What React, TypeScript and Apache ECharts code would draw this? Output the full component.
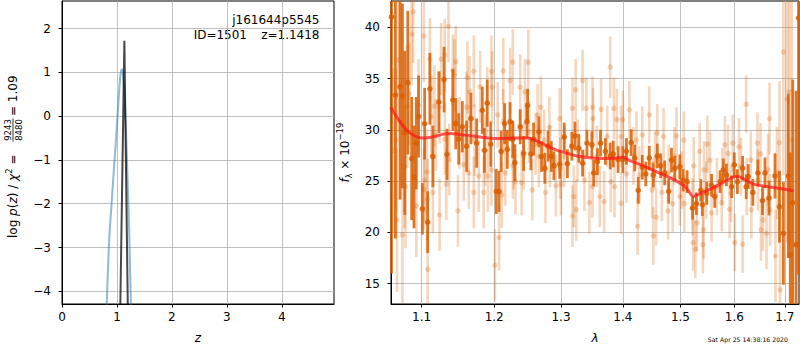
import React, { useEffect, useRef } from 'react';
import * as echarts from 'echarts';

const FONT = 'DejaVu Sans';

// ---- left panel: redshift PDF ----
const zTicks = [0, 1, 2, 3, 4];
const logpTicks = [-4, -3, -2, -1, 0, 1, 2];
const zMin = 0;
const zMax = 4.95;
const logpMin = -4.29;
const logpMax = 2.63;

const pzCurve: [number, number][] = [
  [0.8, -5.2], [0.814, -4.29], [0.84, -3.4], [0.862, -2.75], [0.9, -2.05], [0.935, -1.38],
  [0.978, -0.62], [1.026, 0.3], [1.056, 0.85], [1.075, 1.03], [1.09, 1.07], [1.105, 1.0],
  [1.129, 0.68], [1.155, 0.0], [1.178, -0.85], [1.2, -1.7], [1.22, -2.52], [1.251, -4.12], [1.26, -4.6],
];
const zBestLine: [number, number][] = [[1.058, -4.6], [1.135, 1.72], [1.2, -4.6]];

// ---- right panel: spectrum ----
const lamTicks = [1.1, 1.2, 1.3, 1.4, 1.5, 1.6, 1.7];
const fluxTicks = [15, 20, 25, 30, 35, 40];
const lamMin = 1.0604;
const lamMax = 1.729;
const fluxMin = 13.02;
const fluxMax = 42.56;

const modelLine: [number, number][] = [
  [1.06, 32.2], [1.07, 31.0], [1.08, 30.0], [1.09, 29.45], [1.1, 29.2], [1.11, 29.25], [1.12, 29.4],
  [1.13, 29.6], [1.14, 29.65], [1.15, 29.55], [1.17, 29.4], [1.19, 29.2], [1.21, 29.15], [1.23, 29.2],
  [1.25, 29.2], [1.27, 28.7], [1.29, 28.1], [1.31, 27.7], [1.325, 27.45], [1.35, 27.25], [1.37, 27.2],
  [1.39, 27.25], [1.4, 27.35], [1.41, 27.05], [1.43, 26.6], [1.45, 26.1], [1.47, 25.6], [1.49, 25.1],
  [1.51, 24.4], [1.523, 23.5], [1.54, 23.9], [1.558, 24.3], [1.58, 24.9], [1.595, 25.35], [1.608, 25.45],
  [1.622, 25.1], [1.637, 24.7], [1.66, 24.5], [1.68, 24.35], [1.70, 24.2], [1.718, 24.05],
];

// [lambda, flux, error]
const darkPoints: [number, number, number][] = [
  [1.061, 41.0, 25], [1.066, 33.4, 14], [1.072, 34.2, 11], [1.075, 33.3, 9], [1.078, 29.7, 8],
  [1.082, 34.6, 7], [1.087, 27.2, 6], [1.09, 25.4, 5], [1.093, 28.7, 4.5], [1.096, 31.3, 4],
  [1.101, 22.3, 2.5], [1.104, 30.6, 3.5], [1.108, 21.0, 3], [1.111, 34.0, 3.5], [1.115, 27.4, 3],
  [1.123, 32.7, 3], [1.13, 34.9, 3.2], [1.134, 27.6, 2.5], [1.142, 32.9, 3], [1.146, 30.6, 2.5],
  [1.15, 29.1, 2.5], [1.155, 30.3, 2.5], [1.161, 28.4, 2.5], [1.167, 31.1, 2.5], [1.175, 28.7, 2.4],
  [1.183, 31.9, 2.3], [1.186, 28.0, 2.2], [1.19, 32.6, 2.3], [1.195, 28.6, 2.2], [1.203, 24.0, 2.2],
  [1.207, 24.0, 2.0], [1.21, 27.9, 2.0], [1.215, 30.6, 2.0], [1.219, 28.1, 1.9], [1.223, 30.8, 1.9],
  [1.227, 29.1, 1.8], [1.23, 26.8, 1.8], [1.238, 30.3, 1.7], [1.243, 27.7, 1.7], [1.248, 30.8, 1.6],
  [1.249, 32.4, 1.6], [1.254, 27.65, 1.6], [1.258, 29.1, 1.6], [1.266, 29.8, 1.5], [1.27, 27.4, 1.5],
  [1.275, 26.25, 1.5], [1.28, 28.4, 1.5], [1.285, 27.4, 1.5], [1.289, 26.5, 1.4], [1.298, 26.65, 1.4],
  [1.305, 29.3, 1.4], [1.31, 26.7, 1.4], [1.317, 28.4, 1.4], [1.322, 29.4, 1.4], [1.328, 28.2, 1.4],
  [1.334, 26.75, 1.3], [1.341, 28.7, 1.3], [1.349, 28.55, 1.3], [1.352, 25.8, 1.3], [1.358, 26.9, 1.3],
  [1.363, 28.7, 1.3], [1.371, 27.9, 1.3], [1.379, 27.45, 1.3], [1.384, 27.65, 1.3], [1.392, 27.1, 1.3],
  [1.4, 27.1, 1.3], [1.406, 27.9, 1.3], [1.414, 28.75, 1.3], [1.42, 27.25, 1.3], [1.426, 24.1, 1.3],
  [1.433, 26.35, 1.2], [1.439, 25.7, 1.2], [1.445, 27.25, 1.2], [1.452, 25.6, 1.2], [1.459, 27.45, 1.2],
  [1.465, 26.5, 1.2], [1.472, 25.8, 1.2], [1.479, 24.0, 1.2], [1.484, 27.05, 1.2], [1.49, 26.25, 1.2],
  [1.499, 26.4, 1.2], [1.505, 25.1, 1.1], [1.512, 24.95, 1.1], [1.522, 22.35, 1.1], [1.529, 22.8, 1.1],
  [1.537, 24.1, 1.1], [1.54, 22.7, 1.1], [1.548, 23.8, 1.1], [1.557, 24.6, 1.1], [1.563, 23.5, 1.1],
  [1.573, 24.95, 1.1], [1.579, 26.1, 1.1], [1.585, 25.6, 1.1], [1.595, 24.45, 1.1], [1.6, 26.6, 1.2],
  [1.606, 24.95, 1.2], [1.616, 26.25, 1.2], [1.623, 24.45, 1.2], [1.627, 25.45, 1.2], [1.636, 23.9, 1.3],
  [1.646, 25.8, 1.3], [1.655, 23.1, 1.4], [1.66, 25.8, 1.5], [1.668, 23.35, 1.7], [1.68, 25.5, 2.2],
  [1.689, 22.5, 3.5], [1.697, 19.9, 5], [1.707, 25.5, 8], [1.711, 17.8, 10], [1.716, 22.9, 12],
  [1.723, 18.8, 15], [1.728, 40.9, 25],
];

const lightPoints: [number, number, number][] = [
  [1.063, 28.0, 8], [1.067, 29.0, 7], [1.068, 21.2, 7], [1.07, 36.8, 7], [1.075, 19.75, 7],
  [1.078, 26.4, 6], [1.079, 24.45, 6], [1.081, 32.3, 6], [1.084, 33.5, 5], [1.087, 39.35, 5],
  [1.089, 41.5, 5], [1.093, 22.6, 5], [1.096, 32.4, 4.5], [1.103, 39.15, 4.5], [1.103, 24.2, 4],
  [1.104, 25.1, 4], [1.107, 25.9, 4], [1.108, 23.2, 4], [1.108, 16.4, 4], [1.111, 36.9, 4],
  [1.113, 31.3, 4], [1.115, 23.9, 4], [1.117, 32.3, 4], [1.119, 29.5, 3.5], [1.124, 32.2, 3.5],
  [1.124, 21.7, 3.5], [1.126, 36.9, 3.5], [1.131, 37.3, 3.5], [1.131, 29.1, 3.5], [1.133, 24.7, 3.5],
  [1.136, 40.1, 3.5], [1.137, 27.1, 3.5], [1.142, 35.8, 3.5], [1.144, 35.35, 3.5], [1.146, 36.65, 3.5],
  [1.149, 22.1, 3.5], [1.151, 29.7, 3.5], [1.157, 26.6, 3.5], [1.161, 32.2, 3.5], [1.162, 35.1, 3.5],
  [1.164, 25.8, 3.5], [1.165, 33.7, 3.5], [1.171, 35.7, 3.5], [1.171, 23.9, 3.5], [1.172, 29.0, 3.5],
  [1.178, 25.5, 3.5], [1.18, 34.2, 3.5], [1.185, 23.9, 3.5], [1.187, 28.0, 3.5], [1.19, 32.6, 3.5],
  [1.191, 25.5, 3.5], [1.196, 35.7, 3.5], [1.196, 26.1, 3.5], [1.197, 34.15, 3.5], [1.201, 16.8, 3.5],
  [1.205, 31.45, 3.2], [1.207, 19.5, 3.2], [1.211, 23.65, 3.2], [1.213, 35.75, 3.2], [1.213, 30.8, 3.2],
  [1.216, 25.8, 3.2], [1.223, 34.8, 3.2], [1.227, 36.6, 3.2], [1.227, 26.5, 3.2], [1.228, 27.4, 3.2],
  [1.231, 24.95, 3.2], [1.238, 34.15, 3.2], [1.24, 24.85, 3.2], [1.243, 27.4, 3.2], [1.245, 33.7, 3.2],
  [1.25, 36.6, 3.2], [1.251, 29.8, 3.0], [1.256, 24.15, 3.0], [1.261, 28.6, 3.0], [1.264, 31.45, 3.0],
  [1.266, 27.4, 3.0], [1.269, 32.2, 3.0], [1.274, 29.0, 3.0], [1.276, 23.9, 3.0], [1.282, 30.25, 3.0],
  [1.283, 27.4, 3.0], [1.292, 24.55, 3.0], [1.298, 31.1, 3.0], [1.299, 26.25, 3.0], [1.3, 24.65, 3.0],
  [1.305, 27.4, 3.0], [1.318, 32.1, 3.0], [1.318, 21.6, 3.0], [1.32, 23.5, 3.0], [1.323, 33.9, 3.0],
  [1.324, 22.2, 3.0], [1.326, 28.0, 3.0], [1.334, 34.8, 3.0], [1.337, 25.1, 3.0], [1.34, 32.1, 3.0],
  [1.345, 22.9, 3.0], [1.35, 32.2, 3.0], [1.35, 24.45, 3.0], [1.351, 31.1, 3.0], [1.357, 27.4, 3.0],
  [1.362, 23.5, 3.0], [1.364, 32.0, 3.0], [1.369, 23.0, 3.0], [1.374, 29.35, 3.0], [1.379, 36.1, 3.0],
  [1.38, 24.95, 3.0], [1.385, 32.1, 3.0], [1.386, 24.45, 3.0], [1.39, 31.0, 3.0], [1.397, 29.35, 3.0],
  [1.397, 22.85, 3.0], [1.4, 31.0, 2.8], [1.406, 25.7, 2.8], [1.411, 31.95, 2.8], [1.418, 27.45, 2.8],
  [1.423, 29.0, 2.8], [1.425, 20.6, 2.8], [1.428, 25.6, 2.8], [1.433, 29.5, 2.8], [1.445, 31.45, 2.8],
  [1.45, 24.15, 2.8], [1.452, 19.65, 2.8], [1.455, 27.05, 2.8], [1.457, 21.5, 2.8], [1.459, 29.7, 2.8],
  [1.467, 23.9, 2.8], [1.47, 29.35, 2.8], [1.478, 22.1, 2.8], [1.479, 25.75, 2.8], [1.486, 22.8, 2.8],
  [1.489, 27.45, 2.8], [1.493, 29.4, 2.8], [1.499, 23.5, 2.8], [1.502, 25.1, 2.8], [1.506, 29.0, 2.8],
  [1.507, 22.8, 2.8], [1.522, 22.5, 2.8], [1.523, 19.0, 2.8], [1.524, 26.5, 2.8], [1.527, 18.35, 2.8],
  [1.53, 20.95, 2.8], [1.535, 27.9, 2.8], [1.541, 18.8, 2.8], [1.542, 20.25, 2.8], [1.543, 26.1, 2.8],
  [1.547, 24.15, 2.8], [1.549, 28.6, 2.8], [1.554, 27.05, 2.8], [1.557, 21.9, 2.8], [1.567, 24.45, 2.8],
  [1.576, 22.9, 2.8], [1.577, 25.45, 2.8], [1.582, 28.55, 2.8], [1.588, 27.7, 2.8], [1.591, 22.25, 2.8],
  [1.594, 23.8, 2.8], [1.597, 28.7, 2.8], [1.601, 19.0, 2.8], [1.609, 28.35, 2.8], [1.613, 26.4, 2.8],
  [1.616, 18.85, 2.8], [1.623, 32.5, 2.8], [1.624, 24.45, 2.8], [1.632, 27.05, 2.8], [1.633, 22.2, 2.8],
  [1.645, 28.7, 3.0], [1.646, 25.1, 3.0], [1.651, 27.65, 3.0], [1.652, 20.25, 3.0], [1.656, 21.2, 3.0],
  [1.663, 19.9, 3.5], [1.666, 26.1, 3.5], [1.669, 31.1, 3.5], [1.67, 22.2, 3.5], [1.681, 17.7, 4.5],
  [1.684, 25.8, 4.5], [1.689, 28.75, 6], [1.69, 14.4, 8], [1.697, 37.6, 12], [1.705, 33.0, 14],
  [1.709, 33.7, 15], [1.714, 29.0, 18],
];

const DARK = 'rgba(217,95,2,0.85)';
const LIGHT = 'rgba(217,95,2,0.26)';
const GRID = '#b0b0b0';

const minus = (v: number) => (v < 0 ? '\u2212' + Math.abs(v) : String(v));

const errRender = (color: string, lw: number, r: number) => (params: any, api: any) => {
  const x = api.value(0);
  const y = api.value(1);
  const e = api.value(2);
  const cs = params.coordSys;
  const top = api.coord([x, y + e]);
  const bot = api.coord([x, y - e]);
  const c = api.coord([x, y]);
  const y1 = Math.max(cs.y, top[1]);
  const y2 = Math.min(cs.y + cs.height, bot[1]);
  const children: any[] = [];
  if (y2 > y1) {
    children.push({ type: 'line', shape: { x1: c[0], y1, x2: c[0], y2 }, style: { stroke: color, lineWidth: lw } });
  }
  if (c[1] >= cs.y && c[1] <= cs.y + cs.height) {
    children.push({ type: 'circle', shape: { cx: c[0], cy: c[1], r }, style: { fill: color } });
  }
  return { type: 'group', children };
};

const baseAxis = {
  axisLine: { show: true, onZero: false, lineStyle: { color: '#000', width: 1 } },
  splitLine: { show: true, lineStyle: { color: GRID, width: 0.8 } },
};

function buildOption() {
  const log = (v: number) => Math.log10(v);
  return {
    animation: false,
    textStyle: { fontFamily: FONT },
    grid: [
      { left: 62, top: 1, width: 272, height: 303, show: true, borderColor: '#000', borderWidth: 1, backgroundColor: 'transparent' },
      { left: 391, top: 1, width: 408, height: 303, show: true, borderColor: '#000', borderWidth: 1, backgroundColor: 'transparent' },
    ],
    xAxis: [
      {
        ...baseAxis,
        type: 'value', gridIndex: 0, min: zMin, max: zMax,
        name: 'z', nameLocation: 'middle', nameGap: 28,
        nameTextStyle: { color: '#000', fontSize: 12, fontStyle: 'italic', fontFamily: FONT },
        axisTick: { show: true, length: 3.5, customValues: zTicks, lineStyle: { color: '#000' } },
        axisLabel: { color: '#000', fontSize: 12, margin: 7, fontFamily: FONT, customValues: zTicks, formatter: minus },
      },
      {
        ...baseAxis,
        type: 'value', gridIndex: 1, min: log(lamMin), max: log(lamMax),
        name: 'λ', nameLocation: 'middle', nameGap: 28,
        nameTextStyle: { color: '#000', fontSize: 12, fontStyle: 'italic', fontFamily: FONT },
        axisTick: { show: true, length: 3.5, customValues: lamTicks.map(log), lineStyle: { color: '#000' } },
        axisLabel: {
          color: '#000', fontSize: 12, margin: 7, fontFamily: FONT,
          customValues: lamTicks.map(log),
          formatter: (v: number) => Math.pow(10, v).toFixed(1),
        },
      },
    ],
    yAxis: [
      {
        ...baseAxis,
        type: 'value', gridIndex: 0, min: logpMin, max: logpMax,
        axisTick: { show: true, length: 3.5, customValues: logpTicks, lineStyle: { color: '#000' } },
        axisLabel: { color: '#000', fontSize: 12, margin: 11, fontFamily: FONT, customValues: logpTicks, formatter: minus },
      },
      {
        ...baseAxis,
        type: 'value', gridIndex: 1, min: fluxMin, max: fluxMax,
        name: '{i|f}{sub|λ}{n| × 10}{sup|\u221219}', nameLocation: 'middle', nameGap: 37, nameRotate: 90,
        nameTextStyle: {
          color: '#000', fontSize: 12, fontFamily: FONT,
          rich: {
            i: { fontStyle: 'italic', fontSize: 12, lineHeight: 18, fontFamily: FONT, color: '#000' },
            sub: { fontSize: 8, lineHeight: 10, verticalAlign: 'bottom', fontFamily: FONT, color: '#000' },
            n: { fontSize: 12, lineHeight: 18, fontFamily: FONT, color: '#000' },
            sup: { fontSize: 8.5, lineHeight: 10, verticalAlign: 'top', fontFamily: FONT, color: '#000' },
          },
        },
        axisTick: { show: true, length: 3.5, customValues: fluxTicks, lineStyle: { color: '#000' } },
        axisLabel: { color: '#000', fontSize: 12, margin: 11, fontFamily: FONT, customValues: fluxTicks },
      },
    ],
    series: [
      {
        type: 'line', xAxisIndex: 0, yAxisIndex: 0, data: pzCurve, showSymbol: false, smooth: 0.3,
        lineStyle: { color: 'rgba(31,119,180,0.5)', width: 2 }, z: 3,
      },
      {
        type: 'line', xAxisIndex: 0, yAxisIndex: 0, data: zBestLine, showSymbol: false,
        lineStyle: { color: 'rgba(0,0,0,0.72)', width: 2 }, z: 4,
      },
      {
        type: 'custom', xAxisIndex: 1, yAxisIndex: 1,
        data: lightPoints.map(([l, f, e]) => [log(l), f, e]),
        encode: { x: 0, y: 1 },
        renderItem: errRender(LIGHT, 2.6, 2.7), z: 2,
      },
      {
        type: 'custom', xAxisIndex: 1, yAxisIndex: 1,
        data: darkPoints.map(([l, f, e]) => [log(l), f, e]),
        encode: { x: 0, y: 1 },
        renderItem: errRender(DARK, 2.8, 2.8), z: 3,
      },
      {
        type: 'line', xAxisIndex: 1, yAxisIndex: 1,
        data: modelLine.map(([l, f]) => [log(l), f]),
        showSymbol: false, smooth: 0.2,
        lineStyle: { color: 'rgba(255,20,20,0.7)', width: 3 }, z: 5,
      },
    ],
    graphic: [
      {
        type: 'text', x: 319.5, y: 20,
        style: { text: 'j161644p5545', fill: '#000', fontSize: 12, fontFamily: FONT, align: 'right', verticalAlign: 'middle', textAlign: 'right', textVerticalAlign: 'middle' },
      },
      {
        type: 'text', x: 247, y: 34.7,
        style: { text: 'ID=1501', fill: '#000', fontSize: 12, fontFamily: FONT, align: 'right', verticalAlign: 'middle', textAlign: 'right', textVerticalAlign: 'middle' },
      },
      {
        type: 'text', x: 319.5, y: 34.7,
        style: { text: 'z=1.1418', fill: '#000', fontSize: 12, fontFamily: FONT, align: 'right', verticalAlign: 'middle', textAlign: 'right', textVerticalAlign: 'middle' },
      },
      {
        type: 'text', x: 788, y: 339.5,
        style: { text: 'Sat Apr 25 14:38:16 2020', fill: '#000', fontSize: 6.2, fontFamily: FONT, align: 'right', verticalAlign: 'middle', textAlign: 'right', textVerticalAlign: 'middle' },
      },
      {
        type: 'group', x: 13, y: 238, rotation: Math.PI / 2,
        children: [
          {
            type: 'text', x: 0, y: 0,
            style: {
              text: '{r|log }{i|p}{r|(}{i|z}{r|) / }{i|χ}{s|2}{r| =}',
              align: 'left', verticalAlign: 'middle', textAlign: 'left', textVerticalAlign: 'middle',
              fill: '#000', fontSize: 12, fontFamily: FONT,
              rich: {
                r: { fontSize: 12, lineHeight: 18, fontFamily: FONT, fill: '#000' },
                i: { fontSize: 12, lineHeight: 18, fontStyle: 'italic', fontFamily: FONT, fill: '#000' },
                s: { fontSize: 8.5, lineHeight: 10, verticalAlign: 'top', fontFamily: FONT, fill: '#000' },
              },
            },
          },
          {
            type: 'text', x: 108, y: -1,
            style: { text: '9243', fill: '#000', fontSize: 8.5, fontFamily: FONT, align: 'center', verticalAlign: 'bottom', textAlign: 'center', textVerticalAlign: 'bottom' },
          },
          { type: 'line', shape: { x1: 96.5, y1: 0, x2: 119.5, y2: 0 }, style: { stroke: '#000', lineWidth: 0.8 } },
          {
            type: 'text', x: 108, y: 1,
            style: { text: '8480', fill: '#000', fontSize: 8.5, fontFamily: FONT, align: 'center', verticalAlign: 'top', textAlign: 'center', textVerticalAlign: 'top' },
          },
          {
            type: 'text', x: 122, y: 0,
            style: { text: '= 1.09', fill: '#000', fontSize: 12, fontFamily: FONT, align: 'left', verticalAlign: 'middle', textAlign: 'left', textVerticalAlign: 'middle' },
          },
        ],
      },
    ],
  };
}

export default function App() {
  const ref = useRef<HTMLDivElement>(null);
  useEffect(() => {
    if (!ref.current) return;
    const chart = echarts.init(ref.current, null, { renderer: 'svg' });
    chart.setOption(buildOption() as any);
    return () => chart.dispose();
  }, []);
  return (
    <div
      ref={ref}
      style={{ position: 'fixed', left: 0, top: 0, width: 800, height: 350, background: '#fff' }}
    />
  );
}
